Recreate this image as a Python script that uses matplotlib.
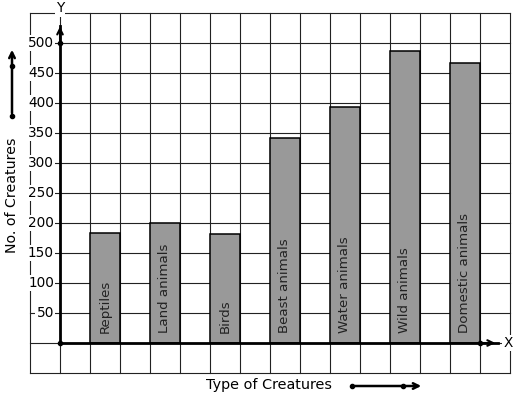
import numpy as np
import matplotlib
matplotlib.use('Agg')
import matplotlib.pyplot as plt

categories = ['Reptiles', 'Land animals', 'Birds', 'Beast animals',
              'Water animals', 'Wild animals', 'Domestic animals']
counts = [183, 200, 181, 341, 394, 486, 466]
yticks = [50, 100, 150, 200, 250, 300, 350, 400, 450, 500]

fig = plt.figure(figsize=(5.17, 3.99), dpi=100)
ax = fig.add_axes([0, 0, 1, 1])
# one grid cell = 30 px = 1 unit in x, 50 units in y; origin at px (60, 343)
ax.set_xlim(-2, 457 / 30)
ax.set_ylim((343 - 399) / 0.6, 343 / 0.6)
ax.axis('off')

# grid
for gx in range(-1, 16):
    ax.plot([gx, gx], [-50, 550], color='#222222', lw=0.8, zorder=1)
for gy in range(-50, 551, 50):
    ax.plot([-1, 15], [gy, gy], color='#222222', lw=0.8, zorder=1)

# bars
xpos = np.arange(len(categories)) * 2 + 1.5
ax.bar(xpos, counts, width=1, color='#999999', edgecolor='black', lw=1.1, zorder=3)
for x, name in zip(xpos, categories):
    ax.text(x, 16, name, rotation=90, ha='center', va='bottom',
            fontsize=9.6, color='#222222', zorder=4)

# tick labels with white background
for t in yticks:
    ax.text(-0.2, t, str(t), ha='right', va='center', fontsize=9.8, zorder=5,
            bbox=dict(boxstyle='square,pad=0.1', fc='white', ec='none'))

# axes with arrows
ax.plot([0, 14.6], [0, 0], color='black', lw=2, zorder=6)
ax.plot([0, 0], [0, 528], color='black', lw=2, zorder=6)
ax.annotate('', xy=(14.6, 0), xytext=(14.0, 0),
            arrowprops=dict(arrowstyle='->', lw=1.5, color='black'), zorder=6)
ax.annotate('', xy=(0, 532), xytext=(0, 500),
            arrowprops=dict(arrowstyle='->', lw=1.5, color='black'), zorder=6)
ax.plot([0, 0, 14], [0, 500, 0], 'o', color='black', ms=3, zorder=7)
ax.text(14.95, 0, 'X', ha='center', va='center', fontsize=9.8,
        bbox=dict(boxstyle='square,pad=0.1', fc='white', ec='none'), zorder=7)
ax.text(0, 558, 'Y', ha='center', va='center', fontsize=9.8,
        bbox=dict(boxstyle='square,pad=0.1', fc='white', ec='none'), zorder=7)

# axis titles with arrows (figure coords)
fig.text(12 / 517, 1 - 195 / 399, 'No. of Creatures', rotation=90,
         ha='center', va='center', fontsize=10.2)
ax.annotate('', xy=(12 / 517, 1 - 47 / 399), xytext=(12 / 517, 1 - 116 / 399),
            xycoords='figure fraction', textcoords='figure fraction',
            arrowprops=dict(arrowstyle='->', lw=1.8, color='black'))
fig.lines.append(plt.Line2D([12 / 517, 12 / 517], [1 - 66 / 399, 1 - 116 / 399],
                            ls='none', marker='o', ms=3, color='black',
                            transform=fig.transFigure))

fig.text(269 / 517, 1 - 385 / 399, 'Type of Creatures',
         ha='center', va='center', fontsize=10.4)
ax.annotate('', xy=(424 / 517, 1 - 386 / 399), xytext=(352 / 517, 1 - 386 / 399),
            xycoords='figure fraction', textcoords='figure fraction',
            arrowprops=dict(arrowstyle='->', lw=1.8, color='black'))
fig.lines.append(plt.Line2D([352 / 517, 403 / 517], [1 - 386 / 399, 1 - 386 / 399],
                            ls='none', marker='o', ms=3, color='black',
                            transform=fig.transFigure))

fig.savefig('out.png', dpi=100)
